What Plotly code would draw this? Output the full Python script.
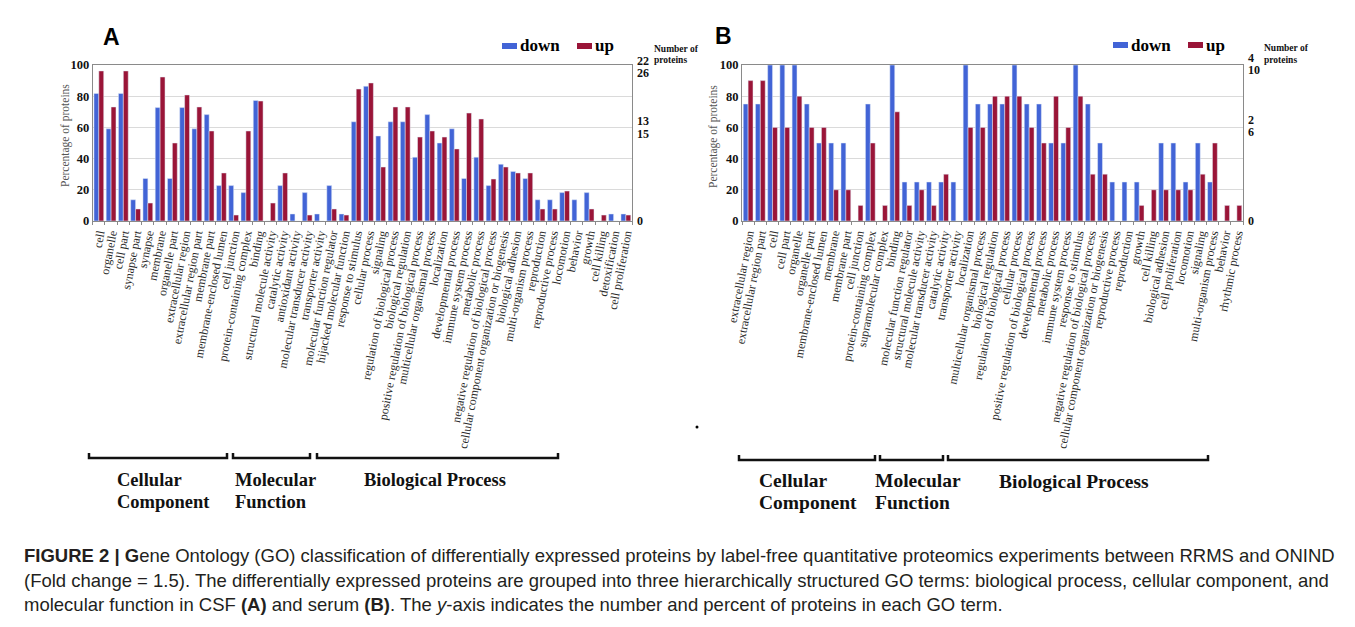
import plotly.graph_objects as go

W, H = 1355, 627
OFF = 8  # the page places the figure 8 px in from the top-left corner

# ---------------- data: panel A (CSF) ----------------
cats_A = ["cell", "organelle", "cell part", "synapse part", "synapse", "membrane",
          "organelle part", "extracellular region", "extracellular region part",
          "membrane part", "membrane-enclosed lumen", "cell junction",
          "protein-containing complex", "binding", "structural molecule activity",
          "catalytic activity", "antioxidant activity", "molecular transducer activity",
          "transporter activity", "molecular function regulator",
          "hijacked molecular function", "response to stimulus", "cellular process",
          "signaling", "regulation of biological process", "biological regulation",
          "positive regulation of biological process", "multicellular organismal process",
          "localization", "developmental process", "immune system process",
          "metabolic process", "negative regulation of biological process",
          "cellular component organization or biogenesis", "biological adhesion",
          "multi-organism process", "reproduction", "reproductive process",
          "locomotion", "behavior", "growth", "cell killing", "detoxification",
          "cell proliferation"]
down_A = [81.8, 59.1, 81.8, 13.6, 27.3, 72.7, 27.3, 72.7, 59.1, 68.2, 22.7, 22.7,
          18.2, 77.3, 0, 22.7, 4.5, 18.2, 4.5, 22.7, 4.5, 63.6, 86.4, 54.5, 63.6,
          63.6, 40.9, 68.2, 50.0, 59.1, 27.3, 40.9, 22.7, 36.4, 31.8, 27.3, 13.6,
          13.6, 18.2, 13.6, 18.2, 0, 4.5, 4.5]
up_A = [96.2, 73.1, 96.2, 7.7, 11.5, 92.3, 50.0, 80.8, 73.1, 57.7, 30.8, 3.8,
        57.7, 76.9, 11.5, 30.8, 0, 3.8, 0, 7.7, 3.8, 84.6, 88.5, 34.6, 73.1, 73.1,
        53.8, 57.7, 53.8, 46.2, 69.2, 65.4, 26.9, 34.6, 30.8, 30.8, 7.7, 7.7,
        19.2, 0, 7.7, 3.8, 0, 3.8]
# right-hand "number of proteins" labels (down count above, up count below)
right_vals_A = [0, 56.1, 64.1, 94.9, 102.9]
right_text_A = ["0", "15", "13", "26", "22"]

# ---------------- data: panel B (serum) ----------------
cats_B = ["extracellular region", "extracellular region part", "cell", "cell part",
          "organelle", "organelle part", "membrane-enclosed lumen", "membrane",
          "membrane part", "cell junction", "protein-containing complex",
          "supramolecular complex", "binding", "molecular function regulator",
          "structural molecule activity", "molecular transducer activity",
          "catalytic activity", "transporter activity", "localization",
          "multicellular organismal process", "biological regulation",
          "regulation of biological process", "cellular process",
          "positive regulation of biological process", "developmental process",
          "metabolic process", "immune system process", "response to stimulus",
          "negative regulation of biological process",
          "cellular component organization or biogenesis", "reproductive process",
          "reproduction", "growth", "cell killing", "biological adhesion",
          "cell proliferation", "locomotion", "signaling", "multi-organism process",
          "behavior", "rhythmic process"]
down_B = [75, 75, 100, 100, 100, 75, 50, 50, 50, 0, 75, 0, 100, 25, 25, 25, 25, 25,
          100, 75, 75, 75, 100, 75, 75, 50, 50, 100, 75, 50, 25, 25, 25, 0, 50, 50,
          25, 50, 25, 0, 0]
up_B = [90, 90, 60, 60, 80, 60, 60, 20, 20, 10, 50, 10, 70, 10, 20, 10, 30, 0,
        60, 60, 80, 80, 80, 60, 50, 80, 60, 80, 30, 30, 0, 0, 10, 20, 20, 20, 20,
        30, 50, 10, 10]
right_vals_B = [0, 57.1, 65.1, 96.8, 104.8]
right_text_B = ["0", "6", "2", "10", "4"]

left_ticks = [0, 20, 40, 60, 80, 100]

BLUE = "#4264D6"
RED = "#9A1538"
SERIF = "Liberation Serif, Times New Roman, serif"


def X(p):
    return (p - OFF) / W


def Y(p):
    return 1 - (p - OFF) / H


fig = go.Figure()
fig.add_trace(go.Bar(x=cats_A, y=down_A, name="down", marker_color=BLUE,
                     xaxis="x", yaxis="y", showlegend=False))
fig.add_trace(go.Bar(x=cats_A, y=up_A, name="up", marker_color=RED,
                     xaxis="x", yaxis="y", showlegend=False))
fig.add_trace(go.Bar(x=cats_B, y=down_B, name="down", marker_color=BLUE,
                     xaxis="x2", yaxis="y2", showlegend=False))
fig.add_trace(go.Bar(x=cats_B, y=up_B, name="up", marker_color=RED,
                     xaxis="x2", yaxis="y2", showlegend=False))
# carriers for the right-hand "number of proteins" axes (own hidden x axes)
fig.add_trace(go.Scatter(x=[0], y=[0], mode="markers", marker=dict(opacity=0),
                         xaxis="x3", yaxis="y3", showlegend=False, hoverinfo="skip"))
fig.add_trace(go.Scatter(x=[0], y=[0], mode="markers", marker=dict(opacity=0),
                         xaxis="x4", yaxis="y4", showlegend=False, hoverinfo="skip"))

TOP, BOT = 65, 221
xA = [X(92.7), X(632)]
xB = [X(742), X(1243)]
yD = [Y(BOT), Y(TOP)]
ext = 0.06 * (BOT - TOP)
yR = [Y(BOT + ext), Y(TOP - ext)]

xcommon = dict(type="category", tickangle=-79, showline=True, linecolor="#8a8a8a",
               mirror=True, ticks="outside", ticklen=3, tickcolor="#8a8a8a",
               tickson="boundaries", showgrid=False, tickmode="array", automargin=False,
               tickfont=dict(family=SERIF, size=12, color="#2a2a2a"))
ycommon = dict(range=[0, 100], tickvals=left_ticks, showgrid=True, gridcolor="#dadada",
               showline=True, linecolor="#8a8a8a", mirror=True, zeroline=False,
               ticks="", automargin=False,
               tickfont=dict(family=SERIF, size=12.5, color="#111", weight="bold"))
rcommon = dict(range=[-6, 106], side="right", showgrid=False, showline=False,
               zeroline=False, ticks="", ticklabelstandoff=4, automargin=False,
               tickfont=dict(family=SERIF, size=12, color="#111", weight="bold"))
hidden_x = dict(visible=False, range=[-1, 1], showgrid=False, zeroline=False,
                automargin=False)

fig.update_layout(
    width=W, height=H, margin=dict(l=0, r=0, t=0, b=0, pad=0, autoexpand=False),
    paper_bgcolor="white", plot_bgcolor="rgba(0,0,0,0)",
    barmode="group", bargap=0.2, bargroupgap=0,
    xaxis=dict(domain=xA, anchor="y", tickvals=cats_A, ticktext=cats_A,
               categoryorder="array", categoryarray=cats_A, **xcommon),
    xaxis2=dict(domain=xB, anchor="y2", tickvals=cats_B, ticktext=cats_B,
                categoryorder="array", categoryarray=cats_B, **xcommon),
    xaxis3=dict(domain=xA, anchor="y3", **hidden_x),
    xaxis4=dict(domain=xB, anchor="y4", **hidden_x),
    yaxis=dict(domain=yD, anchor="x", **ycommon),
    yaxis2=dict(domain=yD, anchor="x2", **ycommon),
    yaxis3=dict(domain=yR, anchor="x3", tickvals=right_vals_A,
                ticktext=right_text_A, **rcommon),
    yaxis4=dict(domain=yR, anchor="x4", tickvals=right_vals_B,
                ticktext=right_text_B, **rcommon),
)

ann = []


def txt(x, y, s, size, family=SERIF, weight="normal", color="#111", xanchor="left",
        angle=0):
    ann.append(dict(x=X(x), y=Y(y), xref="paper", yref="paper", text=s, showarrow=False,
                    xanchor=xanchor, yanchor="middle", textangle=angle,
                    font=dict(family=family, size=size, color=color, weight=weight)))


# panel letters
txt(111, 37, "A", 23, family="Liberation Sans, Arial, sans-serif", weight="bold",
    color="#000", xanchor="center")
txt(724, 36, "B", 23, family="Liberation Sans, Arial, sans-serif", weight="bold",
    color="#000", xanchor="center")

# y-axis titles
txt(65, 136, "Percentage of proteins", 11.5, color="#555", xanchor="center", angle=-90)
txt(713, 136, "Percentage of proteins", 11.5, color="#555", xanchor="center", angle=-90)

# legends (custom swatches)
shapes = []
legend_items = [(502, 46, "down", BLUE), (577, 46, "up", RED),
                (1113, 45, "down", BLUE), (1188, 45, "up", RED)]
for lx, ly, name, col in legend_items:
    shapes.append(dict(type="rect", xref="paper", yref="paper", x0=X(lx), x1=X(lx + 15),
                       y0=Y(ly + 3), y1=Y(ly - 3), fillcolor=col, line=dict(width=0)))
    txt(lx + 16, ly, name, 17, weight="bold", color="#000")

# "Number of proteins"
txt(652, 49, "Number of", 9.5, weight="bold", color="#111")
txt(652, 60, "proteins", 9.5, weight="bold", color="#111")
txt(1262, 48, "Number of", 9.5, weight="bold", color="#111")
txt(1262, 60, "proteins", 9.5, weight="bold", color="#111")

# group brackets
brackets = [(89, 227, 458), (233, 310, 458), (317, 558, 458),
            (739, 875, 460), (880, 943, 460), (948, 1208, 460)]
for x0, x1, by in brackets:
    path = "M {a},{b} L {a},{c} L {d},{c} L {d},{b}".format(
        a=X(x0), b=Y(by - 5), c=Y(by), d=X(x1))
    shapes.append(dict(type="path", xref="paper", yref="paper", path=path,
                       line=dict(color="#111", width=2.5)))

# group labels
txt(115, 480, "Cellular", 18.5, weight="bold")
txt(115, 502, "Component", 18.5, weight="bold")
txt(233, 480, "Molecular", 18.5, weight="bold")
txt(233, 502, "Function", 18.5, weight="bold")
txt(362, 480, "Biological Process", 18.5, weight="bold")
txt(757, 480, "Cellular", 19.5, weight="bold")
txt(757, 502, "Component", 19.5, weight="bold")
txt(873, 480, "Molecular", 19.5, weight="bold")
txt(873, 502, "Function", 19.5, weight="bold")
txt(997, 481, "Biological Process", 19.5, weight="bold")

# stray dot
shapes.append(dict(type="circle", xref="paper", yref="paper", x0=X(695.5), x1=X(698.5),
                   y0=Y(428.5), y1=Y(425.5), fillcolor="#000", line=dict(width=0)))

# frame lines
shapes.append(dict(type="line", xref="paper", yref="paper", x0=X(7), x1=X(7), y0=0,
                   y1=1.02, line=dict(color="#b5b5b5", width=1)))
shapes.append(dict(type="line", xref="paper", yref="paper", x0=X(1348), x1=X(1348),
                   y0=0, y1=1.02, line=dict(color="#b5b5b5", width=1)))

# caption
CAP = "Liberation Sans, Arial, sans-serif"
cap1 = ("<b>FIGURE 2 | G</b>ene Ontology (GO) classification of differentially expressed "
        "proteins by label-free quantitative proteomics experiments between RRMS and ONIND")
cap2 = ("(Fold change = 1.5). The differentially expressed proteins are grouped into three "
        "hierarchically structured GO terms: biological process, cellular component, and")
cap3 = ("molecular function in CSF <b>(A)</b> and serum <b>(B)</b>. The <i>y</i>-axis "
        "indicates the number and percent of proteins in each GO term.")
txt(22, 555, cap1, 18.5, family=CAP, color="#231f20")
txt(22, 580, cap2, 18.5, family=CAP, color="#231f20")
txt(22, 604, cap3, 18.5, family=CAP, color="#231f20")

fig.update_layout(annotations=ann, shapes=shapes)
fig.write_html("out.html")
